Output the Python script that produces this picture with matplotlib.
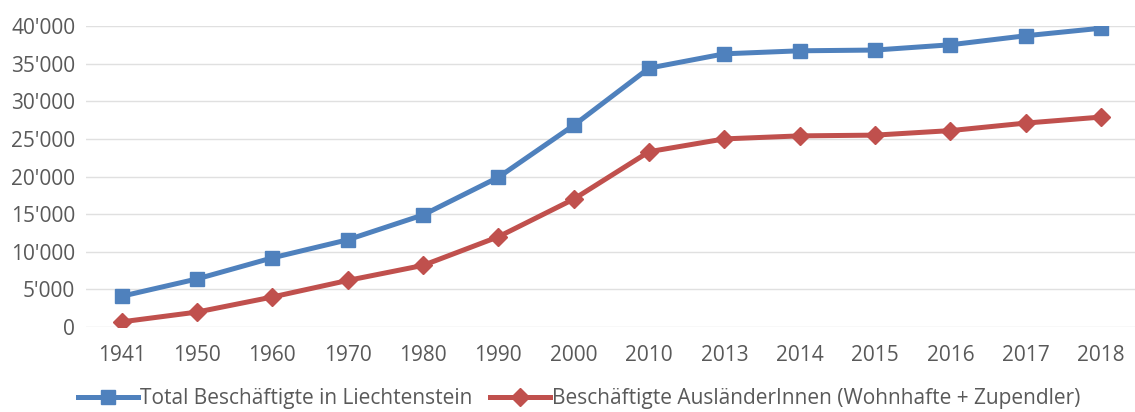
import numpy as np
from matplotlib import pyplot as plt
from matplotlib import font_manager
from matplotlib.ticker import FuncFormatter

years = ['1941', '1950', '1960', '1970', '1980', '1990', '2000',
         '2010', '2013', '2014', '2015', '2016', '2017', '2018']
total = [4100, 6400, 9200, 11600, 14900, 19900, 26800,
         34400, 36300, 36700, 36800, 37500, 38700, 39700]
auslaender = [700, 2000, 4000, 6200, 8200, 12000, 17000,
              23300, 25000, 25400, 25500, 26100, 27100, 27900]
label_total = 'Total Beschäftigte in Liechtenstein'
label_ausl = 'Beschäftigte AusländerInnen (Wohnhafte + Zupendler)'

# Calibri-ish narrow font if there is one
family = 'DejaVu Sans'
for f in ['Liberation Sans Narrow', 'Open Sans', 'Liberation Sans']:
    try:
        font_manager.findfont(f, fallback_to_default=False)
        family = f
        break
    except Exception:
        pass
plt.rcParams['font.family'] = family

fig = plt.figure(figsize=(11.35, 4.12), dpi=100)
ax = fig.add_axes([0.076, 0.206, 0.924, 0.731])

x = np.arange(len(years))
ax.plot(x, total, '-s', color='#4F81BD', lw=3.6, markersize=10, label=label_total)
ax.plot(x, auslaender, '-D', color='#C0504D', lw=3.6, markersize=9, label=label_ausl)

ax.set_ylim(0, 40000)
ax.set_xlim(-0.47, 13.45)
ax.set_yticks(range(0, 40001, 5000))
ax.yaxis.set_major_formatter(FuncFormatter(lambda v, p: f'{int(v):,}'.replace(',', "'")))
ax.set_xticks(x)
ax.set_xticklabels(years)
ax.grid(axis='y', color='#E0E0E0', lw=1)
ax.set_axisbelow(True)
for s in ax.spines.values():
    s.set_visible(False)
ax.tick_params(length=0, labelsize=15, colors='#595959', pad=8)
ax.tick_params(axis='x', pad=13)

ax.legend(loc='upper center', bbox_to_anchor=(0.47, -0.14), ncol=2, frameon=False,
          fontsize=15, handlelength=2.9, columnspacing=0.8, handletextpad=0.1,
          labelcolor='#595959')

fig.savefig('out.png', dpi=100)
